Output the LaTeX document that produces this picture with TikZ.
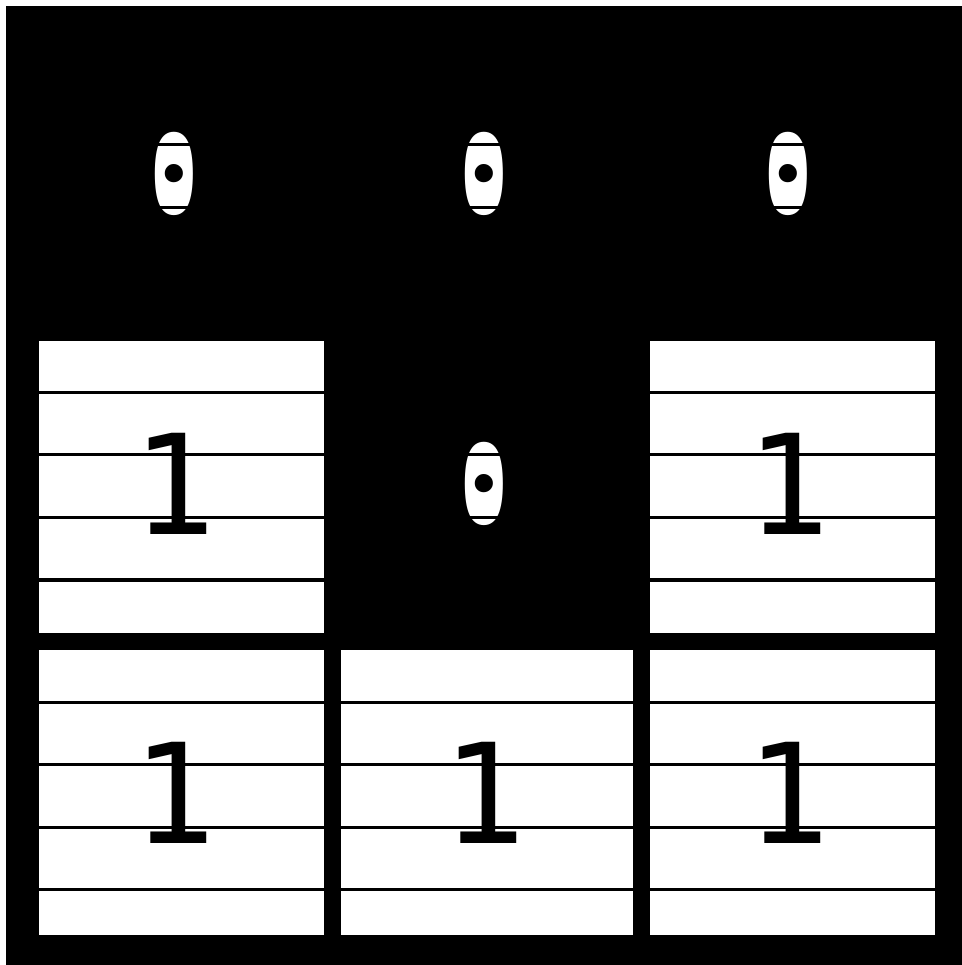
\documentclass[tikz,border=0pt]{standalone}
\usepackage{fontspec}
\newfontfamily\cellfont{DejaVu Sans Mono}
\begin{document}
\begin{tikzpicture}[x=0.01cm, y=-0.01cm, font=\cellfont\fontsize{39.5}{40}\selectfont,
	cell1/.style={text=black, inner sep=0pt},
	cell0/.style={fill=white, text=black, inner xsep=-0.15cm, inner ysep=-0.05cm, rounded corners=0.2cm},
	ruling/.style={black, line width=0.03cm}]
	\useasboundingbox (0,0) rectangle (962,965);
	\fill[white] (0,0) rectangle (962,965);
	\fill[black] (6,6) rectangle (962,965);
	% live cells
	\foreach \l/\t/\w/\h in {39/341/285/292, 650/341/285/292, 39/650/285/285, 341/650/292/285, 650/650/285/285}
		\fill[white] (\l,\t) rectangle ++(\w,\h);
	% digits
	\foreach \cx/\cy/\val [count=\i] in {174/173.5/0, 484/173.5/0, 788/173.5/0,
		174/483.5/1, 484/483.5/0, 788/483.5/1,
		174/792.5/1, 484/792.5/1, 788/792.5/1}
		\node[cell\val] (d\i) at (\cx,\cy) {\val};
	% ruled lines over each row
	\foreach \t in {31,341,650}
		\foreach \dy in {52,114,177,239}
			\draw[ruling] (39,\t+\dy) -- (935,\t+\dy);
\end{tikzpicture}
\end{document}
